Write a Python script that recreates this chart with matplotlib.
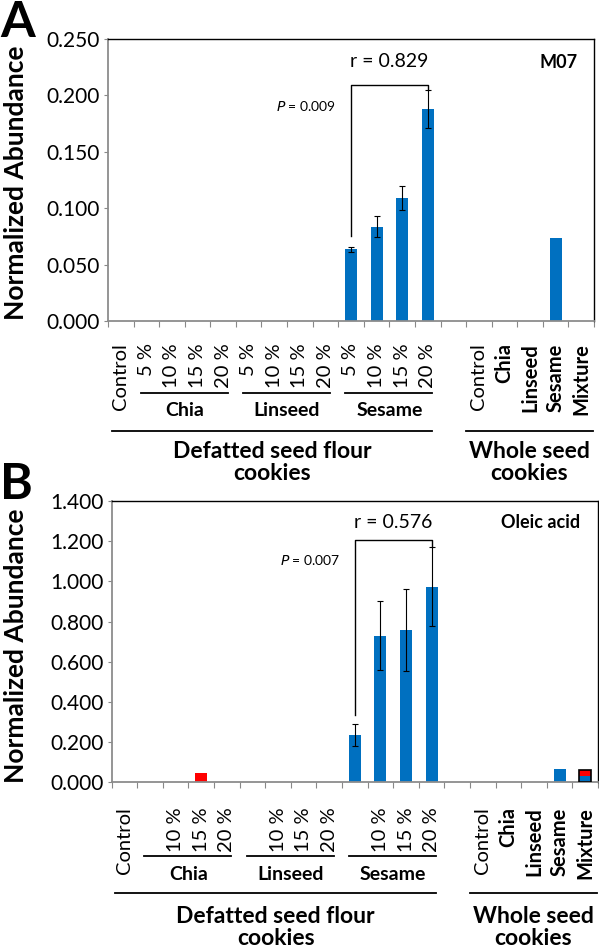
import matplotlib
matplotlib.use("Agg")
import matplotlib.pyplot as plt
import matplotlib.transforms as mtransforms
import numpy as np

plt.rcParams['font.family'] = ['Lato', 'DejaVu Sans']

# ---------------- data ----------------
categories = ["Control", "Chia 5 %", "Chia 10 %", "Chia 15 %", "Chia 20 %",
              "Linseed 5 %", "Linseed 10 %", "Linseed 15 %", "Linseed 20 %",
              "Sesame 5 %", "Sesame 10 %", "Sesame 15 %", "Sesame 20 %",
              "", "W Control", "W Chia", "W Linseed", "W Sesame", "W Mixture"]

labels_a = ["Control", "5 %", "10 %", "15 %", "20 %", "5 %", "10 %", "15 %", "20 %",
            "5 %", "10 %", "15 %", "20 %", "", "Control", "Chia", "Linseed", "Sesame", "Mixture"]
labels_b = ["Control", "", "10 %", "15 %", "20 %", "", "10 %", "15 %", "20 %",
            "", "10 %", "15 %", "20 %", "", "Control", "Chia", "Linseed", "Sesame", "Mixture"]
bold_labels = [15, 16, 17, 18]

# Panel A (M07)
a_vals = [0, 0, 0, 0, 0, 0, 0, 0, 0, 0.0636, 0.0836, 0.109, 0.188, 0, 0, 0, 0, 0.074, 0]
a_err = [0, 0, 0, 0, 0, 0, 0, 0, 0, 0.002, 0.0095, 0.0105, 0.017, 0, 0, 0, 0, 0, 0]

# Panel B (Oleic acid)
b_vals = [0, 0, 0, 0, 0, 0, 0, 0, 0, 0.237, 0.730, 0.758, 0.974, 0, 0, 0, 0, 0.066, 0.031]
b_err = [0, 0, 0, 0, 0, 0, 0, 0, 0, 0.054, 0.173, 0.205, 0.195, 0, 0, 0, 0, 0, 0]
b_red = [0, 0, 0, 0.045, 0, 0, 0, 0, 0, 0, 0, 0, 0, 0, 0, 0, 0, 0, 0.030]

groups = [("Chia", 1, 4), ("Linseed", 5, 8), ("Sesame", 9, 12)]
supergroups = [("Defatted seed flour\ncookies", 0, 12), ("Whole seed\ncookies", 14, 18)]

corr_a = ("r = 0.829", "0.009", 0.075, 0.2095)
corr_b = ("r = 0.576", "0.007", 0.335, 1.205)

BLUE = "#0070C0"
W, H = 599, 951
fig = plt.figure(figsize=(W / 100, H / 100), dpi=100)


def fy(px):
    return 1 - px / H


def make_panel(rect, vals, err, red, labels, ylim, ystep, corr, tag, tagpos, letter, letter_y,
               ylab_y, lab_pad, y_grp, y_grptxt, y_big, y_bigtxt):
    ax = fig.add_axes(rect)
    x = np.arange(len(categories))
    ax.bar(x, vals, width=0.47, color=BLUE, zorder=2)
    e = np.array(err)
    mask = e > 0
    ax.errorbar(x[mask], np.array(vals)[mask], yerr=e[mask], fmt='none', ecolor='black',
                elinewidth=0.8, capsize=2.2, capthick=0.8, zorder=3)
    if red is not None:
        r = np.array(red)
        m = r > 0
        ax.bar(x[m], r[m], bottom=np.array(vals)[m], width=0.47, color="#FF0000", zorder=2)
        # outline of mixture bar
        ax.bar([18], [vals[18] + red[18]], width=0.47, fill=False, edgecolor='black',
               linewidth=1.2, zorder=4)
    ax.set_xlim(-0.5, len(categories) - 0.5)
    ax.set_ylim(0, ylim)
    ticks = np.arange(0, ylim + ystep / 2, ystep)
    ax.set_yticks(ticks)
    ax.set_yticklabels([f"{v:.3f}" for v in ticks], fontsize=15)
    ax.set_xticks(x)
    ax.set_xticklabels(labels, rotation=90, fontsize=14.5)
    for i, t in enumerate(ax.get_xticklabels()):
        if i in bold_labels:
            t.set_fontweight('bold')
    ax.tick_params(axis='x', which='major', length=0, pad=lab_pad)
    ax.set_xticks(np.arange(-0.5, len(categories) + 0.5, 1), minor=True)
    ax.tick_params(axis='x', which='minor', length=4, color='#888888', width=0.8, direction='out')
    ax.tick_params(axis='y', length=3, color='#888888', width=0.8, pad=3)
    for s in ['left', 'bottom']:
        ax.spines[s].set_color('#8c8c8c')
        ax.spines[s].set_linewidth(1.3)
    for s in ['top', 'right']:
        ax.spines[s].set_color('black')
        ax.spines[s].set_linewidth(1.0)

    # correlation bracket
    rtxt, ptxt, y_start, y_top = corr
    i0, i1 = 9, 12
    ax.plot([i0, i0, i1, i1], [y_start, y_top, y_top, vals[i1] + err[i1]], color='black',
            lw=1.0, zorder=3)
    ax.text((i0 + i1) / 2, corr_text_y[letter], rtxt, ha='center', va='center', fontsize=14)
    ax.text(0.346, ptxt_y[letter], r"$\it{P}$ = " + ptxt, transform=ax.transAxes, ha='left',
            va='center', fontsize=10)
    ax.text(tagpos[0], tagpos[1], tag, transform=ax.transAxes, ha='center', va='center',
            fontsize=13, fontweight='bold')

    # group labels
    tr = mtransforms.blended_transform_factory(ax.transData, fig.transFigure)
    for name, a, b in groups:
        ax.plot([a - 0.22, b + 0.18], [fy(y_grp)] * 2, color='black', lw=1.3, transform=tr,
                clip_on=False)
        ax.text((a + b) / 2, fy(y_grptxt), name, transform=tr, ha='center', va='center',
                fontsize=14, fontweight='bold')
    for (name, a, b), (l0, l1) in zip(supergroups, [(-0.36, 12.18), (13.48, 18.45)]):
        ax.plot([l0, l1], [fy(y_big)] * 2, color='black', lw=1.3, transform=tr, clip_on=False)
        ax.text((l0 + l1) / 2, fy(y_bigtxt), name, transform=tr, ha='center', va='top',
                fontsize=16.5, fontweight='bold', linespacing=1.05)

    fig.text(0 / W, fy(letter_y), letter, fontsize=36, fontweight='bold', ha='left', va='top')
    fig.text(16 / W, fy(ylab_y), "Normalized Abundance", rotation=90, ha='center',
             va='center', fontsize=19, fontweight='bold')
    return ax


corr_text_y = {"A": 0.2299, "B": 1.292}
ptxt_y = {"A": 0.763, "B": 0.790}

make_panel([108 / W, fy(321), 486 / W, 282 / H], a_vals, a_err, None, labels_a, 0.25, 0.05,
           corr_a, "M07", (0.928, 0.918), "A", 0, 182.5, 16, 393, 411, 431, 441)
make_panel([111.7 / W, fy(782.3), 486.3 / W, 281.3 / H], b_vals, b_err, b_red, labels_b, 1.4, 0.2,
           corr_b, "Oleic acid", (0.882, 0.922), "B", 462, 646, 18, 856, 875, 893.3, 906)

fig.savefig("out.png", dpi=100)
